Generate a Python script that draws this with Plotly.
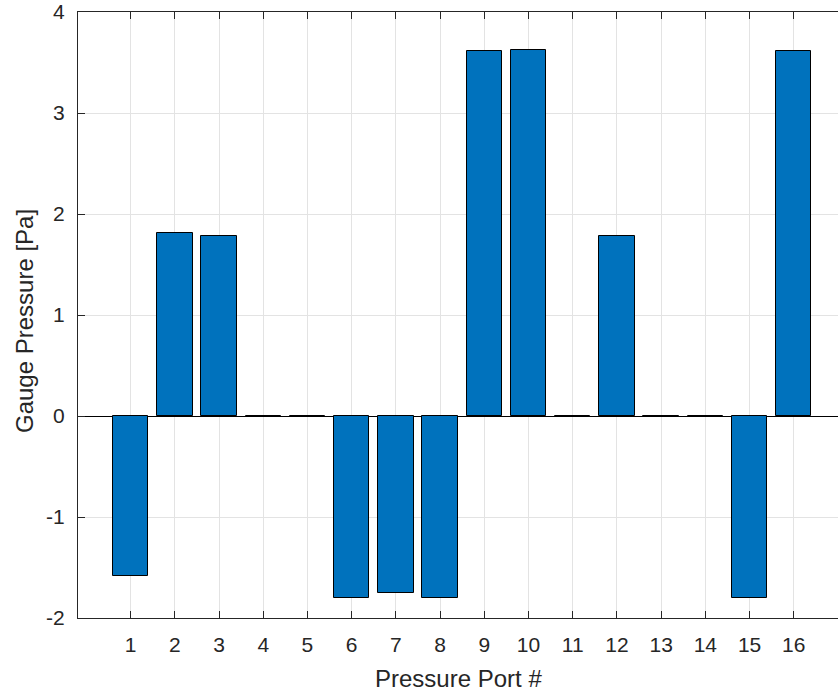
import plotly.graph_objects as go

ports = list(range(1, 17))
pressure = [-1.58, 1.81, 1.78, 0.0, 0.0, -1.80, -1.75, -1.80,
            3.61, 3.62, 0.0, 1.78, 0.0, 0.0, -1.80, 3.61]
x_ticks = list(range(1, 17))
y_ticks = [-2, -1, 0, 1, 2, 3, 4]
x_title = "Pressure Port #"
y_title = "Gauge Pressure [Pa]"

fig = go.Figure()
fig.add_trace(go.Bar(
    x=ports, y=pressure, width=0.8,
    marker=dict(color="#0072BD", line=dict(color="#000000", width=1)),
    showlegend=False,
))

font = dict(family="Liberation Sans, Arial, sans-serif", color="#262626")

fig.update_layout(
    width=838, height=694,
    margin=dict(l=78, r=0, t=12, b=76, autoexpand=False),
    paper_bgcolor="white", plot_bgcolor="white",
    font=dict(**font, size=21),
    bargap=0,
)
fig.update_xaxes(
    range=[-0.19, 17.0], tickmode="array", tickvals=x_ticks,
    ticktext=[str(t) for t in x_ticks],
    ticks="inside", ticklen=7, tickcolor="#262626", tickwidth=1,
    showline=True, linecolor="#262626", linewidth=1, mirror="ticks",
    showgrid=True, gridcolor="#e3e3e3", gridwidth=1, zeroline=False,
    tickfont=dict(size=21), ticklabelstandoff=8, automargin=False,
)
fig.update_yaxes(
    range=[-2, 4], tickmode="array", tickvals=y_ticks,
    ticktext=[str(t) for t in y_ticks],
    ticks="inside", ticklen=7, tickcolor="#262626", tickwidth=1,
    showline=True, linecolor="#262626", linewidth=1, mirror=False,
    showgrid=True, gridcolor="#e3e3e3", gridwidth=1,
    zeroline=True, zerolinecolor="#000000", zerolinewidth=1,
    tickfont=dict(size=21), ticklabelstandoff=8, automargin=False,
)
fig.add_annotation(
    text=x_title, xref="paper", yref="paper", x=0.5, y=0,
    yshift=-60, showarrow=False, font=dict(size=24),
    xanchor="center", yanchor="middle",
)
fig.add_annotation(
    text=y_title, xref="paper", yref="paper", x=0, y=0.5,
    xshift=-54, yshift=-6, showarrow=False, font=dict(size=24), textangle=-90,
    xanchor="center", yanchor="middle",
)

fig.write_html(
    "out.html",
    config={"displayModeBar": False},
    post_script="document.body.style.margin='0';document.body.style.overflow='hidden';",
)
